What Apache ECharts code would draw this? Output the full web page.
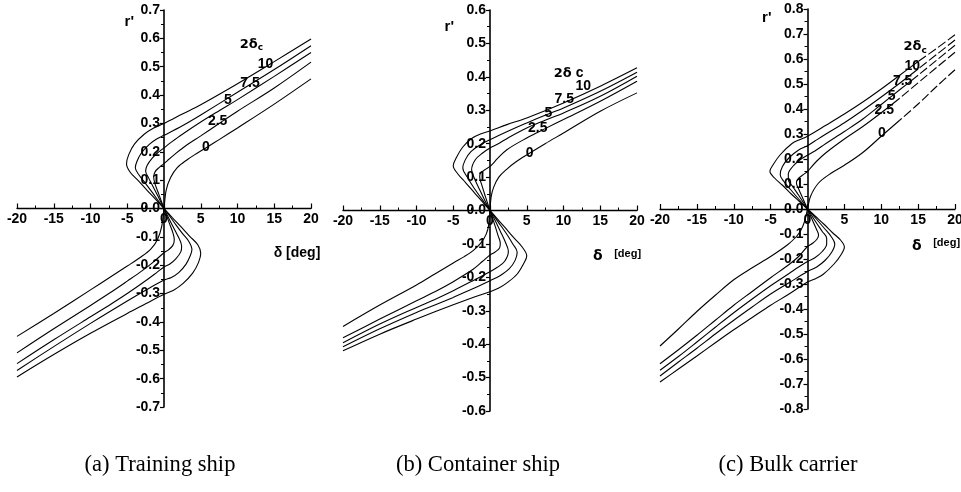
<!DOCTYPE html>
<html>
<head>
<meta charset="utf-8">
<script src="https://cdn.jsdelivr.net/npm/echarts@6/dist/echarts.min.js"></script>
<style>
  html, body { margin: 0; padding: 0; background: #fff; }
  #chart { width: 961px; height: 492px; }
</style>
</head>
<body>
<div id="chart"></div>
<script>
// Yaw-rate r' versus rudder angle δ for several 2δc values.
// Each curve is listed as [δ, r'] pairs, traced from the upper-right end,
// through the upper nose and the origin, to the lower-left end.

const dcLabels = ['0', '2.5', '5', '7.5', '10'];

// (a) Training ship
const trainDc0 = [[20,0.457],[15,0.368],[10,0.284],[7.5,0.243],[5.9,0.217],[4.5,0.195],[3.2,0.173],[1.8,0.144],[0.9,0.109],[0.3,0.065],[0,0],
  [-0.3,-0.062],[-0.9,-0.11],[-1.8,-0.143],[-3.2,-0.172],[-5,-0.203],[-7.5,-0.245],[-10,-0.287],[-15,-0.37],[-20,-0.451]];
const trainDc25 = [[20,0.516],[15,0.425],[10,0.343],[7.5,0.3],[5,0.256],[3,0.222],[1.5,0.192],[0.5,0.17],[0,0.158],[-0.6,0.146],[-1.2,0.13],[-1.4,0.11],[-1.2,0.085],[-0.7,0.05],[0,0],
  [0.7,-0.05],[1.2,-0.085],[1.4,-0.11],[1.2,-0.13],[0.6,-0.146],[0,-0.156],[-1.5,-0.19],[-3,-0.22],[-5,-0.256],[-7.5,-0.3],[-10,-0.342],[-15,-0.424],[-20,-0.509]];
const trainDc5 = [[20,0.55],[15,0.466],[10,0.384],[7.5,0.345],[5,0.305],[2.5,0.262],[1,0.234],[0,0.214],[-0.8,0.198],[-1.6,0.178],[-2.3,0.152],[-2.5,0.132],[-2.1,0.108],[-1.5,0.078],[-0.8,0.042],[0,0],
  [0.8,-0.042],[1.5,-0.078],[2.1,-0.108],[2.4,-0.133],[2.3,-0.152],[1.6,-0.178],[0.8,-0.196],[0,-0.206],[-1,-0.226],[-2.5,-0.255],[-5,-0.3],[-7.5,-0.342],[-10,-0.382],[-15,-0.463],[-20,-0.547]];
const trainDc75 = [[20,0.574],[15,0.49],[10,0.41],[5,0.33],[2.5,0.292],[0,0.258],[-1,0.245],[-2,0.226],[-3.1,0.195],[-3.7,0.165],[-3.9,0.144],[-3.4,0.118],[-2.5,0.088],[-1.6,0.057],[-0.8,0.028],[0,0],
  [0.8,-0.028],[1.6,-0.057],[2.5,-0.088],[3.4,-0.117],[3.8,-0.145],[3.6,-0.165],[3,-0.196],[2,-0.226],[1,-0.243],[0,-0.252],[-2.5,-0.288],[-5,-0.326],[-10,-0.405],[-15,-0.487],[-20,-0.571]];
const trainDc10 = [[20,0.598],[15,0.518],[10,0.44],[5,0.366],[2.5,0.333],[0,0.3],[-1.4,0.284],[-2.7,0.262],[-4,0.228],[-4.8,0.19],[-5.1,0.157],[-4.6,0.128],[-3.5,0.098],[-2.3,0.064],[-1.1,0.031],[0,0],
  [1.1,-0.031],[2.3,-0.064],[3.5,-0.098],[4.6,-0.128],[5,-0.158],[4.7,-0.19],[3.9,-0.228],[2.6,-0.264],[1.3,-0.288],[0,-0.302],[-2.5,-0.336],[-5,-0.37],[-10,-0.44],[-15,-0.515],[-20,-0.594]];
const trainLabelText = ['2δc', '10', '7.5', '5', '2.5', '0'];
const trainLabelPos = [[11.9,0.579],[13.8,0.509],[11.7,0.443],[8.7,0.382],[7.3,0.308],[5.7,0.218]];

// (b) Container ship
const contDc0 = [[20,0.352],[15,0.297],[10,0.232],[7.5,0.2],[5.2,0.169],[3.5,0.145],[2.3,0.124],[1.2,0.1],[0.5,0.07],[0.15,0.04],[0,0],
  [-0.15,-0.04],[-0.5,-0.07],[-1.2,-0.096],[-2.3,-0.12],[-3.5,-0.138],[-5,-0.157],[-7.5,-0.19],[-10,-0.223],[-15,-0.283],[-20,-0.347]];
const contDc25 = [[20,0.387],[15,0.327],[10,0.272],[7.5,0.245],[5,0.217],[2.3,0.182],[1,0.155],[0.3,0.138],[0,0.132],[-0.7,0.122],[-1.3,0.112],[-1.4,0.1],[-1.1,0.075],[-0.6,0.04],[0,0],
  [0.6,-0.04],[1.1,-0.075],[1.4,-0.098],[1.3,-0.112],[0.7,-0.124],[0,-0.133],[-1,-0.152],[-2.3,-0.176],[-5,-0.213],[-7.5,-0.243],[-10,-0.27],[-15,-0.325],[-20,-0.381]];
const contDc5 = [[20,0.402],[15,0.342],[10,0.292],[7.5,0.27],[5,0.247],[2.5,0.218],[1,0.198],[0,0.187],[-1,0.172],[-2,0.152],[-2.5,0.122],[-2.1,0.095],[-1.4,0.062],[-0.7,0.03],[0,0],
  [0.7,-0.03],[1.4,-0.062],[2.1,-0.095],[2.5,-0.122],[2,-0.152],[1,-0.17],[0,-0.183],[-2.5,-0.212],[-5,-0.24],[-7.5,-0.266],[-10,-0.29],[-15,-0.34],[-20,-0.396]];
const contDc75 = [[20,0.414],[15,0.357],[10,0.307],[7.5,0.285],[5,0.262],[2.5,0.238],[0,0.212],[-1.3,0.197],[-2.6,0.176],[-3.4,0.15],[-3.7,0.127],[-3.1,0.1],[-2.2,0.068],[-1.1,0.034],[0,0],
  [1.1,-0.034],[2.2,-0.068],[3.1,-0.1],[3.7,-0.125],[3.4,-0.15],[2.6,-0.175],[1.3,-0.196],[0,-0.21],[-2.5,-0.236],[-5,-0.26],[-7.5,-0.283],[-10,-0.305],[-15,-0.354],[-20,-0.408]];
const contDc10 = [[20,0.427],[15,0.372],[10,0.322],[5,0.277],[2.3,0.257],[0,0.238],[-1.3,0.229],[-2.4,0.217],[-3.7,0.19],[-4.6,0.157],[-5,0.134],[-4.4,0.11],[-3.3,0.083],[-2,0.05],[-1,0.025],[0,0],
  [1,-0.025],[2,-0.05],[3.3,-0.083],[4.4,-0.11],[5,-0.136],[4.6,-0.158],[3.7,-0.19],[2.4,-0.215],[1.2,-0.232],[0,-0.243],[-2.5,-0.262],[-5,-0.282],[-10,-0.325],[-15,-0.37],[-20,-0.42]];
const contLabelText = ['2δ c', '10', '7.5', '5', '2.5', '0'];
const contLabelPos = [[10.7,0.411],[12.7,0.373],[10.1,0.333],[7.95,0.291],[6.5,0.246],[5.4,0.172]];

// (c) Bulk carrier
const bulkDc0 = [[20,0.557],[17.5,0.49],[15,0.42],[12.5,0.355],[10,0.291],[7.5,0.226],[5,0.175],[3.3,0.145],[1.5,0.104],[0.4,0.05],[0,0],
  [-0.4,-0.05],[-0.9,-0.085],[-1.5,-0.11],[-2.7,-0.143],[-5,-0.19],[-7.5,-0.235],[-10,-0.283],[-12.5,-0.345],[-15,-0.41],[-17.5,-0.48],[-20,-0.548]];
const bulkDc25 = [[20,0.627],[17.5,0.566],[15,0.505],[12.5,0.443],[10,0.385],[7.5,0.33],[5,0.28],[2.5,0.225],[1.2,0.19],[0.3,0.16],[0,0.15],[-0.7,0.135],[-1.3,0.12],[-1.5,0.104],[-1.2,0.08],[-0.6,0.04],[0,0],
  [0.6,-0.04],[1.2,-0.08],[1.5,-0.104],[1.3,-0.12],[0.7,-0.137],[0,-0.15],[-1.2,-0.19],[-2.5,-0.222],[-5,-0.275],[-7.5,-0.33],[-10,-0.385],[-12.5,-0.445],[-15,-0.505],[-17.5,-0.563],[-20,-0.619]];
const bulkDc5 = [[20,0.655],[17.5,0.595],[15,0.535],[12.5,0.477],[10,0.418],[7.5,0.36],[5,0.31],[2.5,0.262],[1,0.232],[0,0.215],[-1,0.197],[-2,0.17],[-2.6,0.14],[-2.6,0.117],[-2,0.09],[-1.2,0.055],[0,0],
  [1.2,-0.055],[2,-0.09],[2.6,-0.117],[2.6,-0.14],[2,-0.17],[1,-0.195],[0,-0.21],[-1.2,-0.232],[-2.5,-0.258],[-5,-0.307],[-7.5,-0.36],[-10,-0.415],[-12.5,-0.473],[-15,-0.532],[-17.5,-0.59],[-20,-0.645]];
const bulkDc75 = [[20,0.676],[17.5,0.618],[15,0.56],[12.5,0.503],[10,0.448],[7.5,0.395],[5,0.345],[2.5,0.3],[1,0.272],[0,0.253],[-1.2,0.236],[-2.5,0.205],[-3.4,0.17],[-3.7,0.137],[-3.2,0.11],[-2.3,0.078],[-1.2,0.04],[0,0],
  [1.2,-0.04],[2.3,-0.078],[3.2,-0.11],[3.7,-0.14],[3.3,-0.172],[2.4,-0.205],[1.2,-0.233],[0,-0.25],[-2.5,-0.295],[-5,-0.34],[-7.5,-0.392],[-10,-0.445],[-12.5,-0.5],[-15,-0.557],[-17.5,-0.612],[-20,-0.668]];
const bulkDc10 = [[20,0.697],[17.5,0.642],[15,0.59],[12.5,0.535],[10,0.48],[7.5,0.428],[5,0.38],[2.5,0.335],[0,0.291],[-1,0.278],[-2.1,0.262],[-3.7,0.217],[-4.6,0.18],[-5.1,0.151],[-4.5,0.125],[-3.4,0.095],[-2.2,0.06],[-1.1,0.03],[0,0],
  [1.1,-0.03],[2.2,-0.06],[3.4,-0.095],[4.5,-0.125],[5,-0.152],[4.5,-0.185],[3.6,-0.22],[2.1,-0.262],[1,-0.28],[0,-0.292],[-2.5,-0.34],[-5,-0.385],[-7.5,-0.434],[-10,-0.483],[-12.5,-0.535],[-15,-0.588],[-17.5,-0.64],[-20,-0.692]];
const bulkLabelText = ['2δc', '10', '7.5', '5', '2.5', '0'];
const bulkLabelPos = [[14.6,0.648],[14.2,0.573],[12.9,0.51],[11.4,0.45],[10.4,0.394],[10.1,0.304]];
// the upper tails of the bulk-carrier curves are drawn broken beyond these δ
const bulkDashFrom = [10.5, 12, 13, 13.5, 14.5];

const captions = ['(a) Training ship', '(b) Container ship', '(c) Bulk carrier'];
const yLimits = [0.7, 0.6, 0.8];

const tickFont = "'Liberation Sans Narrow','Arial Narrow','Liberation Sans',Arial,sans-serif";
const ink = '#000';

const panels = [
  { grid: { left: 17, top: 10, width: 294, height: 397 },
    curves: [trainDc0, trainDc25, trainDc5, trainDc75, trainDc10],
    labelText: trainLabelText, labelPos: trainLabelPos,
    rName: { gapY: -12, shiftX: 30 },
    dName: { text: 'δ [deg]', gap: -14, down: 38 },
    capX: 160 },
  { grid: { left: 343, top: 10, width: 294, height: 401 },
    curves: [contDc0, contDc25, contDc5, contDc75, contDc10],
    labelText: contLabelText, labelPos: contLabelPos,
    rName: { gapY: -17, shiftX: 36 },
    dName: { text: '{d|δ}   {u|[deg]}', gap: -20, down: 33 },
    capX: 478 },
  { grid: { left: 660, top: 9, width: 295, height: 400 },
    curves: [bulkDc0, bulkDc25, bulkDc5, bulkDc75, bulkDc10],
    labelText: bulkLabelText, labelPos: bulkLabelPos,
    rName: { gapY: -9, shiftX: 36 },
    dName: { text: '{d|δ}   {u|[deg]}', gap: -19, down: 24 },
    capX: 788 }
];

function yFmt(v) {
  const r = Math.round(v * 10) / 10;
  return (Math.abs(r) < 1e-9 ? 0 : r).toFixed(1);
}

const grids = [], xAxes = [], yAxes = [], series = [], graphics = [];

panels.forEach((p, i) => {
  const lim = yLimits[i];
  grids.push(Object.assign({ containLabel: false, outerBoundsMode: 'none' }, p.grid));

  // axes cross at the origin, which sits at the middle of each symmetric grid
  xAxes.push({
    gridIndex: i, type: 'value', min: -20, max: 20, interval: 5,
    position: 'bottom', offset: -p.grid.height / 2,
    name: p.dName.text, nameLocation: 'end', nameGap: p.dName.gap,
    nameTextStyle: {
      align: 'center', verticalAlign: 'top', padding: [p.dName.down, 0, 0, 0],
      color: ink, fontFamily: tickFont, fontWeight: 'bold', fontSize: 14,
      rich: {
        d: { fontFamily: 'DejaVu Sans', fontSize: 14, color: ink, padding: [6, 0, 0, 0] },
        u: { fontFamily: tickFont, fontWeight: 'bold', fontSize: 11, color: ink }
      }
    },
    axisLine: { onZero: false, lineStyle: { color: ink, width: 1.4 } },
    axisTick: { inside: true, length: 5, lineStyle: { color: ink, width: 1.2 } },
    minorTick: { show: true, splitNumber: 2, length: 3, lineStyle: { color: ink, width: 1 } },
    splitLine: { show: false },
    axisLabel: { color: ink, fontFamily: tickFont, fontWeight: 'bold', fontSize: 14, margin: 4 }
  });

  yAxes.push({
    gridIndex: i, type: 'value', min: -lim, max: lim, interval: 0.1,
    position: 'left', offset: -p.grid.width / 2,
    name: "r'", nameLocation: 'end', nameGap: p.rName.gapY,
    nameTextStyle: {
      align: 'right', verticalAlign: 'middle', padding: [0, p.rName.shiftX, 0, 0],
      color: ink, fontFamily: tickFont, fontWeight: 'bold', fontSize: 15
    },
    axisLine: { onZero: false, lineStyle: { color: ink, width: 1.6 } },
    axisTick: { inside: false, length: 4, lineStyle: { color: ink, width: 1.2 } },
    minorTick: { show: true, splitNumber: 2, length: 3, lineStyle: { color: ink, width: 1 } },
    splitLine: { show: false },
    axisLabel: { color: ink, fontFamily: tickFont, fontWeight: 'bold', fontSize: 14, margin: 4, formatter: yFmt }
  });

  const lineBase = {
    type: 'line', xAxisIndex: i, yAxisIndex: i, showSymbol: false, symbol: 'none',
    smooth: 0.35, silent: true, animation: false, clip: false
  };

  p.curves.forEach((pts, k) => {
    if (i === 2) {
      // broken upper tail, solid remainder
      const from = bulkDashFrom[k];
      let n = 0;
      while (n < pts.length && pts[n][0] >= from && pts[n][1] > 0) n++;
      series.push(Object.assign({}, lineBase, {
        name: 'c-' + dcLabels[k] + '-tail', data: pts.slice(0, n),
        lineStyle: { color: ink, width: 1.1, type: [9, 3] }
      }));
      series.push(Object.assign({}, lineBase, {
        name: 'c-' + dcLabels[k], data: pts.slice(n - 1),
        lineStyle: { color: ink, width: 1.1 }
      }));
    } else {
      series.push(Object.assign({}, lineBase, {
        name: 'p' + i + '-' + dcLabels[k], data: pts,
        lineStyle: { color: ink, width: 1.1 }
      }));
    }
  });

  // curve annotations (2δc header and the δc values)
  series.push({
    type: 'scatter', xAxisIndex: i, yAxisIndex: i, silent: true, animation: false,
    symbol: 'circle', symbolSize: 0, itemStyle: { color: ink, opacity: 1 },
    data: p.labelPos.map((pos, j) => ({ value: pos, name: p.labelText[j] })),
    label: {
      show: true, position: [0, 0], align: 'center', verticalAlign: 'middle',
      color: ink, opacity: 1, textBorderWidth: 0,
      fontFamily: tickFont, fontWeight: 'bold', fontSize: 14,
      formatter: (prm) => {
        const t = prm.name;
        if (t.indexOf('2δ') === 0) {
          return i === 1 ? '{h|2δ}{n| c}' : '{h|2δ}{s|c}';
        }
        return t;
      },
      rich: {
        h: { fontFamily: 'DejaVu Sans', fontSize: 13, color: ink },
        s: { fontFamily: 'DejaVu Sans', fontSize: 9, color: ink, padding: [7, 0, 0, 0] },
        n: { fontFamily: tickFont, fontWeight: 'bold', fontSize: 14, color: ink }
      }
    }
  });

  graphics.push({
    type: 'text', x: p.capX, y: 465, scaleX: 0.94,
    style: {
      text: captions[i], fill: ink,
      font: '24px "Liberation Serif", "Times New Roman", serif',
      textAlign: 'center', textVerticalAlign: 'middle'
    }
  });
});

const chart = echarts.init(document.getElementById('chart'), null, { renderer: 'canvas' });
chart.setOption({
  backgroundColor: '#fff',
  animation: false,
  grid: grids,
  xAxis: xAxes,
  yAxis: yAxes,
  series: series,
  graphic: graphics
});
</script>
</body>
</html>
